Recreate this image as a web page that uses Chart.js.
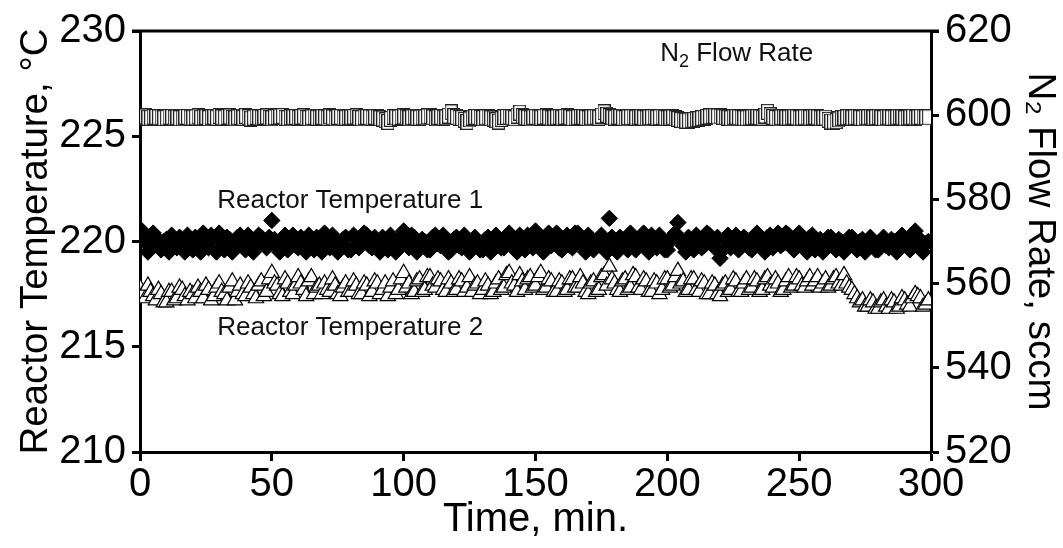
<!DOCTYPE html>
<html>
<head>
<meta charset="utf-8">
<script src="https://cdn.jsdelivr.net/npm/chart.js@4/dist/chart.umd.min.js"></script>
<style>
html,body{margin:0;padding:0;background:#fff;}
#wrap{width:1063px;height:548px;position:relative;}
</style>
</head>
<body>
<div id="wrap"><canvas id="c" width="1063" height="548"></canvas></div>
<script>
// one sample per minute, 0..299 min
const time = Array.from({length:300}, (_, i) => i);

const reactorTemp1 = [
220.6,220.3,220.0,219.5,219.7,220.4,220.2,219.8,219.6,220.0,
220.1,219.5,220.3,220.0,219.7,220.2,219.9,219.5,220.3,220.0,
219.6,220.2,220.0,219.5,220.4,220.1,219.7,220.3,220.2,219.5,
220.4,220.0,219.6,220.2,220.1,219.5,219.8,220.2,220.3,219.9,
219.6,220.3,220.0,219.5,219.8,220.3,220.2,219.9,219.7,220.2,
221.0,220.1,219.8,219.5,220.1,220.3,219.6,220.0,220.3,219.8,
219.7,220.2,220.0,219.5,220.3,219.9,219.6,220.2,220.1,219.5,
220.4,220.0,219.7,220.3,220.0,219.5,219.8,220.1,220.2,219.6,
219.6,220.3,220.1,219.7,219.9,220.4,220.3,219.8,219.7,220.2,
220.0,219.5,220.2,220.0,219.6,220.3,220.1,219.5,219.8,220.2,
220.5,219.9,219.7,220.3,220.2,219.5,219.8,220.1,220.0,219.6,
219.6,220.2,220.3,219.9,219.8,220.3,220.0,219.5,219.6,220.1,
220.2,219.8,219.7,220.3,220.1,219.5,219.8,220.2,220.0,219.6,
219.6,220.1,220.2,219.5,219.8,220.3,220.1,219.7,219.7,220.2,
220.4,220.0,219.8,219.5,220.3,220.1,219.6,220.3,220.1,219.7,
220.5,220.2,219.7,219.5,220.2,220.4,219.8,220.0,220.4,219.7,
219.6,220.1,220.3,219.8,219.7,220.4,220.4,220.0,219.9,219.5,
220.3,220.1,219.6,219.9,220.0,220.3,219.8,219.5,221.1,220.2,
219.7,219.5,220.2,220.1,219.9,219.6,220.4,220.2,219.6,219.9,
220.2,220.4,219.8,219.5,220.3,220.1,219.7,220.3,220.1,219.6,
219.6,220.0,220.2,220.4,220.9,220.1,219.8,219.5,220.2,220.0,
219.6,220.3,220.1,219.7,219.8,220.4,220.3,219.9,219.7,220.2,
219.2,219.6,220.1,220.3,219.7,220.0,220.3,219.6,219.8,220.2,
220.1,219.7,219.6,220.2,220.4,220.0,219.8,219.5,220.2,220.3,
219.7,220.0,220.4,219.8,219.9,220.4,220.3,219.8,219.6,220.1,
220.4,220.0,219.8,219.5,220.2,220.3,219.6,220.0,220.1,219.5,
219.8,220.2,220.2,219.9,219.6,220.1,220.0,219.5,219.8,220.2,
220.2,219.9,219.6,220.0,220.1,219.5,219.8,220.2,220.0,219.6,
219.6,220.0,220.2,219.8,219.7,220.1,220.0,219.5,219.8,220.3,
220.1,219.8,219.6,220.0,220.5,220.2,219.8,219.5,219.9,220.0];

const reactorTemp2 = [
217.8,217.5,217.3,217.9,217.6,217.4,217.2,217.7,217.5,217.1,
217.1,217.6,217.6,217.2,217.3,217.8,217.7,217.4,217.2,217.6,
217.5,217.3,217.8,217.6,217.3,217.9,217.7,217.2,217.4,217.8,
218.0,217.6,217.5,217.2,217.8,218.1,217.2,217.6,217.9,217.5,
217.4,218.0,217.8,217.5,217.3,217.9,218.1,217.4,217.6,218.2,
218.5,218.0,217.9,217.5,217.4,218.2,218.0,217.6,217.5,217.9,
218.3,218.0,217.7,217.4,218.1,218.3,217.5,217.8,217.9,217.5,
218.0,217.7,217.6,218.2,217.9,217.5,217.4,217.8,218.0,217.6,
217.6,218.1,217.9,217.5,217.5,218.0,217.9,217.4,217.6,218.1,
218.0,217.5,217.7,218.0,217.4,217.8,218.1,217.5,217.7,218.2,
218.5,217.8,218.0,217.5,217.6,218.1,218.2,217.6,217.7,218.3,
218.3,217.9,217.8,218.2,218.1,217.7,217.6,218.2,218.0,217.6,
217.7,218.2,218.1,217.6,217.8,218.3,217.6,217.9,218.0,217.5,
217.7,218.1,217.9,217.5,217.6,218.0,218.2,217.7,217.8,218.4,
218.5,218.0,217.9,217.6,218.4,218.1,217.7,218.2,218.3,217.8,
217.9,218.3,218.5,217.7,217.8,218.2,218.1,217.6,217.6,218.1,
218.0,217.6,217.7,218.2,218.2,217.8,217.8,218.3,218.0,217.6,
217.5,218.0,218.1,217.6,217.7,218.3,218.4,217.9,218.8,218.2,
218.0,217.7,217.6,218.1,218.2,217.7,217.8,218.4,218.3,217.8,
217.7,218.2,218.1,217.6,217.6,218.1,218.0,217.5,217.7,218.2,
218.2,217.8,217.9,218.3,218.6,218.0,218.1,217.6,217.7,218.2,
218.2,217.7,217.6,218.1,218.0,217.5,217.5,218.0,217.9,217.5,
217.4,217.9,218.0,217.6,217.7,218.2,218.1,217.6,217.6,218.0,
218.2,217.7,217.8,218.2,218.1,217.6,217.7,218.2,218.3,217.9,
217.8,218.2,218.0,217.6,217.7,218.1,218.3,217.8,217.9,218.3,
218.2,217.9,217.8,218.1,218.3,217.9,218.1,218.3,217.8,218.0,
218.2,217.8,217.9,218.2,218.3,218.0,217.9,218.4,218.0,217.8,
217.7,217.5,217.3,217.1,217.2,216.9,216.9,217.2,217.1,216.8,
216.8,217.1,217.2,216.9,216.8,217.2,217.1,216.8,216.9,217.3,
217.2,217.0,216.9,217.3,217.5,217.4,217.3,216.9,217.0,217.2];

const n2FlowRate = [
599.5,599.6,599.7,599.4,599.4,599.6,599.6,599.5,599.5,599.3,
599.4,599.6,599.6,599.4,599.5,599.3,599.3,599.6,599.6,599.4,
599.4,599.5,599.7,599.4,599.5,599.6,599.3,599.5,599.6,599.4,
599.8,599.5,599.4,599.6,599.7,599.4,599.3,599.5,599.6,599.4,
599.8,599.5,599.2,599.4,599.6,599.5,599.4,599.6,599.7,599.4,
599.3,599.5,599.6,599.7,599.8,599.4,599.3,599.5,599.5,599.6,
599.4,599.6,599.7,599.4,599.3,599.5,599.6,599.4,599.4,599.6,
599.5,599.4,599.7,599.5,599.3,599.6,599.6,599.4,599.4,599.5,
599.5,599.6,599.7,599.4,599.3,599.5,599.6,599.5,599.4,599.6,
599.5,599.3,599.2,598.8,598.4,599.1,599.6,599.5,599.4,599.6,
599.7,599.5,599.3,599.5,599.6,599.4,599.4,599.5,599.5,599.7,
599.8,599.5,599.3,599.5,599.6,599.4,599.5,599.9,600.7,599.8,
599.6,599.4,599.3,598.9,598.4,599.0,599.4,599.6,599.6,599.4,
599.3,599.5,599.5,599.3,599.2,598.8,598.5,599.1,599.5,599.6,
599.6,599.5,599.3,599.9,600.6,599.8,599.5,599.4,599.3,599.5,
599.6,599.5,599.4,599.6,599.7,599.5,599.3,599.4,599.5,599.6,
599.4,599.6,599.7,599.5,599.3,599.4,599.5,599.6,599.6,599.4,
599.3,599.5,599.5,599.6,599.4,599.9,600.7,600.1,599.8,599.5,
599.4,599.6,599.6,599.4,599.3,599.5,599.5,599.6,599.4,599.5,
599.6,599.4,599.3,599.5,599.5,599.6,599.4,599.5,599.6,599.4,
599.3,599.4,599.5,599.3,599.1,598.9,598.8,598.7,598.7,598.8,
598.9,599.0,599.1,599.3,599.4,599.6,599.7,599.8,599.8,599.7,
599.7,599.6,599.5,599.4,599.3,599.5,599.6,599.5,599.4,599.3,
599.3,599.4,599.5,599.6,599.6,599.5,599.4,599.9,600.8,600.0,
599.6,599.4,599.3,599.5,599.5,599.4,599.4,599.5,599.6,599.5,
599.3,599.4,599.5,599.5,599.4,599.5,599.6,599.5,599.3,599.4,
599.4,598.9,598.5,598.5,598.6,599.0,599.3,599.4,599.5,599.6,
599.4,599.5,599.6,599.4,599.3,599.5,599.5,599.6,599.4,599.5,
599.6,599.4,599.3,599.5,599.5,599.4,599.4,599.5,599.6,599.5,
599.3,599.4,599.5,599.6,599.4,599.5,599.6,599.5,599.5,599.5];

const xTicks = [0,50,100,150,200,250,300];
const leftTicks = [210,215,220,225,230];
const rightTicks = [520,540,560,580,600,620];

const seriesLabels = ['N₂ Flow Rate','Reactor Temperature 1','Reactor Temperature 2'];
const annotations = [
  {parts:[['N',''],['2','sub'],[' Flow Rate','']], x:197.3, y:614.5, axis:'y2'},
  {parts:[['Reactor Temperature 1','']], x:29.3, y:221.95, axis:'y'},
  {parts:[['Reactor Temperature 2','']], x:29.3, y:215.9, axis:'y'}
];

const FONT = "'Liberation Sans', Arial, Helvetica, sans-serif";

function pts(ys){ return time.map((t,i)=>({x:t,y:ys[i]})); }

// square marker image (slightly taller than wide, as in the figure)
function makeSquare(){
  const c = document.createElement('canvas');
  c.width = 13; c.height = 16;
  const g = c.getContext('2d');
  g.fillStyle = '#ffffff';
  g.fillRect(0.5,0.5,12,15);
  g.strokeStyle = '#222222';
  g.lineWidth = 1.2;
  g.strokeRect(0.6,0.6,11.8,14.8);
  return c;
}

const framePlugin = {
  id:'frame',
  afterDatasetsDraw(chart){
    const {ctx, chartArea:a} = chart;
    ctx.save();
    ctx.strokeStyle = '#000';
    ctx.lineWidth = 3;
    ctx.beginPath();
    ctx.moveTo(a.left-8, a.top);
    ctx.lineTo(a.right+8, a.top);
    ctx.stroke();
    ctx.restore();
  },
  afterDraw(chart){
    const ctx = chart.ctx;
    ctx.save();
    ctx.fillStyle = '#111';
    ctx.textBaseline = 'middle';
    ctx.textAlign = 'left';
    annotations.forEach(an=>{
      let px = chart.scales.x.getPixelForValue(an.x);
      const py = chart.scales[an.axis].getPixelForValue(an.y);
      an.parts.forEach(([txt,kind])=>{
        if(kind==='sub'){
          ctx.font = `18px ${FONT}`;
          ctx.fillText(txt, px, py+8);
        } else {
          ctx.font = `26px ${FONT}`;
          ctx.fillText(txt, px, py);
        }
        px += ctx.measureText(txt).width;
      });
    });
    ctx.restore();
  }
};

const tickFont = {family:FONT, size:40};
const yTitleFont = {family:FONT, size:38.5};
const xTitleFont = {family:FONT, size:40};

new Chart(document.getElementById('c'), {
  type:'scatter',
  data:{
    datasets:[
      {label:seriesLabels[0], data:pts(n2FlowRate), yAxisID:'y2', pointStyle:makeSquare(), pointRadius:8, backgroundColor:'#ffffff', borderColor:'#222222', borderWidth:1.2},
      {label:seriesLabels[1], data:pts(reactorTemp1), yAxisID:'y', pointStyle:'rectRot', pointRadius:8.2, backgroundColor:'#000000', borderColor:'#000000', borderWidth:1},
      {label:seriesLabels[2], data:pts(reactorTemp2), yAxisID:'y', pointStyle:'triangle', pointRadius:8.8, backgroundColor:'#ffffff', borderColor:'#000000', borderWidth:1.2}
    ]
  },
  options:{
    responsive:false,
    animation:false,
    layout:{padding:{top:31, left:0, right:0, bottom:0}},
    plugins:{legend:{display:false}, tooltip:{enabled:false}},
    scales:{
      x:{
        type:'linear', min:0, max:300,
        afterBuildTicks(s){ s.ticks = xTicks.map(v=>({value:v})); },
        afterFit(s){ s.height = 96; },
        ticks:{font:tickFont, color:'#000', padding:0, maxRotation:0},
        grid:{drawOnChartArea:false, drawTicks:true, tickLength:9, tickColor:'#000', tickWidth:3},
        border:{display:true, color:'#000', width:3},
        title:{display:true, text:'Time, min.', font:xTitleFont, color:'#000', padding:{top:0,bottom:4}}
      },
      y:{
        type:'linear', position:'left', min:210, max:230,
        afterBuildTicks(s){ s.ticks = leftTicks.map(v=>({value:v})); },
        afterFit(s){ s.width = 140; },
        ticks:{font:tickFont, color:'#000', padding:6},
        grid:{drawOnChartArea:false, drawTicks:true, tickLength:8, tickColor:'#000', tickWidth:3},
        border:{display:true, color:'#000', width:3},
        title:{display:true, text:'Reactor Temperature, °C', font:yTitleFont, color:'#000', padding:{top:13,bottom:0}}
      },
      y2:{
        type:'linear', position:'right', min:520, max:620,
        afterBuildTicks(s){ s.ticks = rightTicks.map(v=>({value:v})); },
        afterFit(s){ s.width = 132; },
        ticks:{font:tickFont, color:'#000', padding:6},
        grid:{drawOnChartArea:false, drawTicks:true, tickLength:8, tickColor:'#000', tickWidth:3},
        border:{display:true, color:'#000', width:3},
        title:{display:true, text:'N₂ Flow Rate, sccm', font:yTitleFont, color:'#000', padding:{top:0,bottom:0}}
      }
    }
  },
  plugins:[framePlugin]
});
</script>
</body>
</html>
